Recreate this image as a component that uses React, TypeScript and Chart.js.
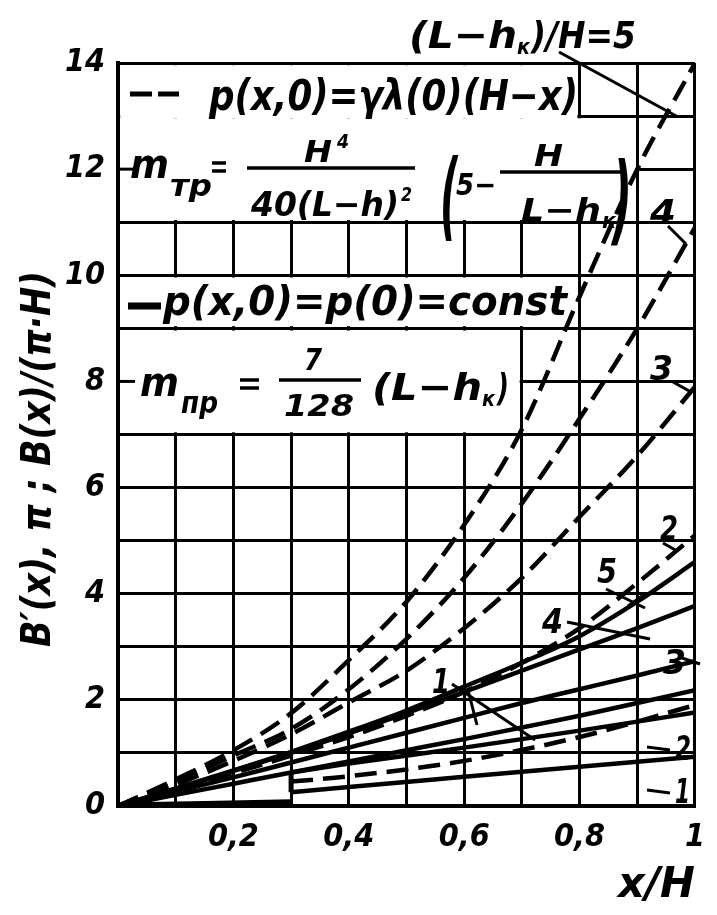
import React, { useEffect, useRef } from "react";
import { Chart, registerables } from "chart.js";

Chart.register(...registerables);

// ---------- data ----------
const xs = [0, 0.1, 0.2, 0.3, 0.4, 0.5, 0.6, 0.7, 0.8, 0.9, 1];
// dashed family: p(x,0) = γλ(0)(H−x), (L−h_к)/H = 2..5
const dashed5 = [0, 0.5, 1.05, 1.75, 2.75, 3.85, 5.3, 7.1, 9.6, 12.0, 14.0];
const dashed4 = [0, 0.45, 0.95, 1.45, 2.2, 3.15, 4.3, 5.7, 7.3, 9.0, 10.9];
const dashed3 = [0, 0.4, 0.85, 1.35, 1.95, 2.55, 3.35, 4.3, 5.45, 6.6, 7.9];
const dashed2 = [0, 0.3, 0.62, 0.95, 1.3, 1.7, 2.15, 2.7, 3.35, 4.2, 5.1];
// solid family: p(x,0) = p(0) = const
const solid5 = [0, 0.33, 0.67, 1.02, 1.4, 1.8, 2.25, 2.7, 3.2, 3.85, 4.6];
const solid4 = [0, 0.32, 0.66, 1.0, 1.37, 1.75, 2.15, 2.55, 2.95, 3.35, 3.77];
const solid3 = [0, 0.27, 0.54, 0.82, 1.1, 1.38, 1.66, 1.94, 2.2, 2.46, 2.73];
const solid2 = [0, 0.21, 0.42, 0.63, 0.84, 1.05, 1.26, 1.48, 1.7, 1.94, 2.18];
// lower family, starting at x/H = 0.3
const lowXs = [0.3, 0.4, 0.6, 0.8, 1];
const lowSolid2 = [0.63, 0.8, 1.1, 1.42, 1.76];
const lowSolid1 = [0.26, 0.36, 0.55, 0.74, 0.93];
const lowDashed2 = [0.46, 0.56, 0.85, 1.3, 1.9];
const stemXs = [0.3, 0.3];
const stemYs = [0.26, 0.63];
const baseXs = [0, 0.15, 0.3];
const baseYs = [0, 0.03, 0.06];

const xTickText: Record<number, string> = { 2: "0,2", 4: "0,4", 6: "0,6", 8: "0,8", 10: "1" };
const yTickText: Record<number, string> = { 0: "0", 2: "2", 4: "4", 6: "6", 8: "8", 10: "10", 12: "12", 14: "14" };

const F = "'DejaVu Sans Condensed','Liberation Sans Narrow','Roboto Condensed','DejaVu Sans',sans-serif";

const pts = (a: number[], b: number[]) => a.map((x, i) => ({ x, y: b[i] }));

function txt(ctx: CanvasRenderingContext2D, s: string, x: number, base: number, size: number, width?: number) {
  ctx.font = `italic bold ${size}px ${F}`;
  ctx.textAlign = "left";
  ctx.textBaseline = "alphabetic";
  const m = ctx.measureText(s).width;
  ctx.save();
  ctx.translate(x, base);
  if (width) ctx.scale(width / m, 1);
  ctx.fillText(s, 0, 0);
  ctx.restore();
}

function seg(ctx: CanvasRenderingContext2D, x1: number, y1: number, x2: number, y2: number, w = 3) {
  ctx.beginPath();
  ctx.lineWidth = w;
  ctx.moveTo(x1, y1);
  ctx.lineTo(x2, y2);
  ctx.stroke();
}

const boxesPlugin = {
  id: "boxes",
  beforeDatasetsDraw(chart: any) {
    const ctx: CanvasRenderingContext2D = chart.ctx;
    const xS = chart.scales.x, yS = chart.scales.y;
    const px = (v: number) => xS.getPixelForValue(v);
    const py = (v: number) => yS.getPixelForValue(v);
    const hw = 2.2;
    ctx.save();
    ctx.fillStyle = "#fff";
    const rect = (x1: number, y1: number, x2: number, y2: number) => ctx.fillRect(x1, y1, x2 - x1, y2 - y1);
    rect(px(0) + hw, py(14) + hw, px(0.8) - hw, py(13) + hw);
    rect(px(0) + hw, py(13) + hw, px(0.9) - hw, py(11) - hw);
    rect(px(0) + hw, py(10) + hw, px(0.8) - hw, py(9) - hw);
    rect(px(0) + hw, py(9) + hw, px(0.7) - hw, py(7) - hw);
    ctx.strokeStyle = "#000";
    seg(ctx, px(0), py(12), px(0) + 17, py(12), 3);
    seg(ctx, px(0), py(8), px(0) + 17, py(8), 3);
    ctx.fillStyle = "#000";

    // box A: dashed legend
    seg(ctx, 130, 94, 152, 94, 5);
    seg(ctx, 158, 94, 179, 94, 5);
    txt(ctx, "p(x,0)=γλ(0)(H−x)", 209, 110, 42, 369);

    // box B: m_тр formula
    txt(ctx, "m", 130, 178, 40, 39);
    txt(ctx, "тр", 170, 196, 30, 42);
    seg(ctx, 212, 163, 226, 163, 3.5);
    seg(ctx, 212, 171, 226, 171, 3.5);
    txt(ctx, "H", 304, 162, 30, 28);
    txt(ctx, "4", 337, 148, 20, 12);
    seg(ctx, 247, 168, 415, 168, 3.5);
    txt(ctx, "40(L−h)", 251, 216, 34, 148);
    txt(ctx, "2", 401, 201, 20, 11);
    txt(ctx, "(", 440, 228, 96, 18);
    txt(ctx, "5−", 456, 195, 30, 40);
    txt(ctx, "H", 534, 166, 30, 29);
    seg(ctx, 500, 172, 622, 172, 3.5);
    txt(ctx, "L−h", 521, 221, 32, 80);
    txt(ctx, "к", 602, 228, 22, 14);
    txt(ctx, ")", 612, 233, 98, 20);

    // box C: solid legend
    seg(ctx, 128, 306, 161, 306, 7);
    txt(ctx, "p(x,0)=p(0)=const", 163, 315, 40, 404);

    // box D: m_пр formula
    txt(ctx, "m", 140, 396, 40, 39);
    txt(ctx, "пр", 181, 413, 30, 37);
    seg(ctx, 240, 380, 259, 380, 3.5);
    seg(ctx, 240, 388, 259, 388, 3.5);
    txt(ctx, "7", 304, 370, 30, 18);
    seg(ctx, 279, 380, 361, 380, 3.5);
    txt(ctx, "128", 284, 416, 30, 70);
    txt(ctx, "(L−h", 372, 400, 38, 110);
    txt(ctx, "к", 482, 406, 22, 13);
    txt(ctx, ")", 497, 400, 38, 12);
    ctx.restore();
  },
  afterDatasetsDraw(chart: any) {
    const ctx: CanvasRenderingContext2D = chart.ctx;
    ctx.save();
    ctx.fillStyle = "#000";
    ctx.strokeStyle = "#000";
    // top label
    txt(ctx, "(L−h", 409, 48, 38, 108);
    txt(ctx, "к", 517, 54, 22, 13);
    txt(ctx, ")/H=5", 531, 48, 38, 105);
    seg(ctx, 559, 52, 678, 117, 3);
    // curve labels
    txt(ctx, "4", 650, 224, 34, 26);
    seg(ctx, 668, 226, 686, 244, 3);
    txt(ctx, "3", 650, 380, 34, 23);
    seg(ctx, 673, 382, 691, 392, 3);
    txt(ctx, "2", 660, 540, 34, 18);
    seg(ctx, 663, 543, 677, 551, 3);
    txt(ctx, "5", 597, 583, 34, 20);
    seg(ctx, 606, 589, 645, 608, 3);
    seg(ctx, 628, 606, 645, 594, 3);
    txt(ctx, "4", 542, 633, 34, 21);
    seg(ctx, 567, 622, 650, 639, 3);
    txt(ctx, "3", 663, 674, 34, 23);
    seg(ctx, 682, 658, 700, 664, 3);
    txt(ctx, "1", 432, 693, 34, 18);
    seg(ctx, 452, 684, 535, 740, 3);
    seg(ctx, 468, 690, 477, 725, 3);
    txt(ctx, "2", 675, 760, 34, 16);
    seg(ctx, 647, 747, 670, 750, 3);
    txt(ctx, "1", 675, 803, 34, 15);
    seg(ctx, 647, 790, 670, 793, 3);
    // axis titles
    txt(ctx, "x/H", 618, 897, 42, 77);
    ctx.translate(50, 647);
    ctx.rotate(-Math.PI / 2);
    txt(ctx, "B′(x), π ; B(x)/(π·H)", 0, 0, 40, 376);
    ctx.restore();
  },
};

export default function App() {
  const ref = useRef<HTMLCanvasElement | null>(null);
  useEffect(() => {
    if (!ref.current) return;
    const dashStyle = { borderDash: [22, 10], borderWidth: 4.5 };
    const solidStyle = { borderWidth: 4.5 };
    const mk = (x: number[], y: number[], style: any) => ({
      data: pts(x, y),
      borderColor: "#000",
      pointRadius: 0,
      fill: false,
      cubicInterpolationMode: "monotone" as const,
      borderCapStyle: "butt" as const,
      ...style,
    });
    const chart = new Chart(ref.current, {
      type: "line",
      data: {
        datasets: [
          mk(xs, dashed5, dashStyle),
          mk(xs, dashed4, dashStyle),
          mk(xs, dashed3, dashStyle),
          mk(xs, dashed2, dashStyle),
          mk(xs, solid5, solidStyle),
          mk(xs, solid4, solidStyle),
          mk(xs, solid3, solidStyle),
          mk(xs, solid2, solidStyle),
          mk(lowXs, lowSolid2, solidStyle),
          mk(lowXs, lowSolid1, solidStyle),
          mk(lowXs, lowDashed2, dashStyle),
          mk(stemXs, stemYs, { borderWidth: 5 }),
          mk(baseXs, baseYs, { borderWidth: 7 }),
        ] as any,
      },
      options: {
        responsive: false,
        maintainAspectRatio: false,
        animation: false,
        layout: { padding: { top: 63, right: 17, left: 0, bottom: 0 } },
        plugins: { legend: { display: false }, tooltip: { enabled: false } },
        scales: {
          x: {
            type: "linear",
            min: 0,
            max: 1,
            ticks: {
              stepSize: 0.1,
              autoSkip: false,
              maxRotation: 0,
              color: "#000",
              padding: 12,
              font: { family: F, size: 32, style: "italic", weight: "bold" },
              callback: (v: any) => xTickText[Math.round(Number(v) * 10)] ?? "",
            },
            grid: { color: "#000", lineWidth: 3, drawTicks: false },
            border: { color: "#000", width: 4 },
            afterFit: (s: any) => {
              s.height = 915 - 806;
            },
          },
          y: {
            type: "linear",
            min: 0,
            max: 14,
            ticks: {
              stepSize: 1,
              autoSkip: false,
              color: "#000",
              padding: 13,
              font: { family: F, size: 32, style: "italic", weight: "bold" },
              callback: (v: any) => yTickText[Math.round(Number(v))] ?? "",
            },
            grid: { color: "#000", lineWidth: 3, drawTicks: false },
            border: { color: "#000", width: 4 },
            afterFit: (s: any) => {
              s.width = 118;
            },
          },
        },
      } as any,
      plugins: [boxesPlugin],
    });
    return () => chart.destroy();
  }, []);
  return (
    <div style={{ position: "absolute", left: 0, top: 0, width: 717, height: 915, background: "#fff" }}>
      <canvas ref={ref} width={717} height={915} style={{ display: "block", width: 717, height: 915 }} />
    </div>
  );
}
